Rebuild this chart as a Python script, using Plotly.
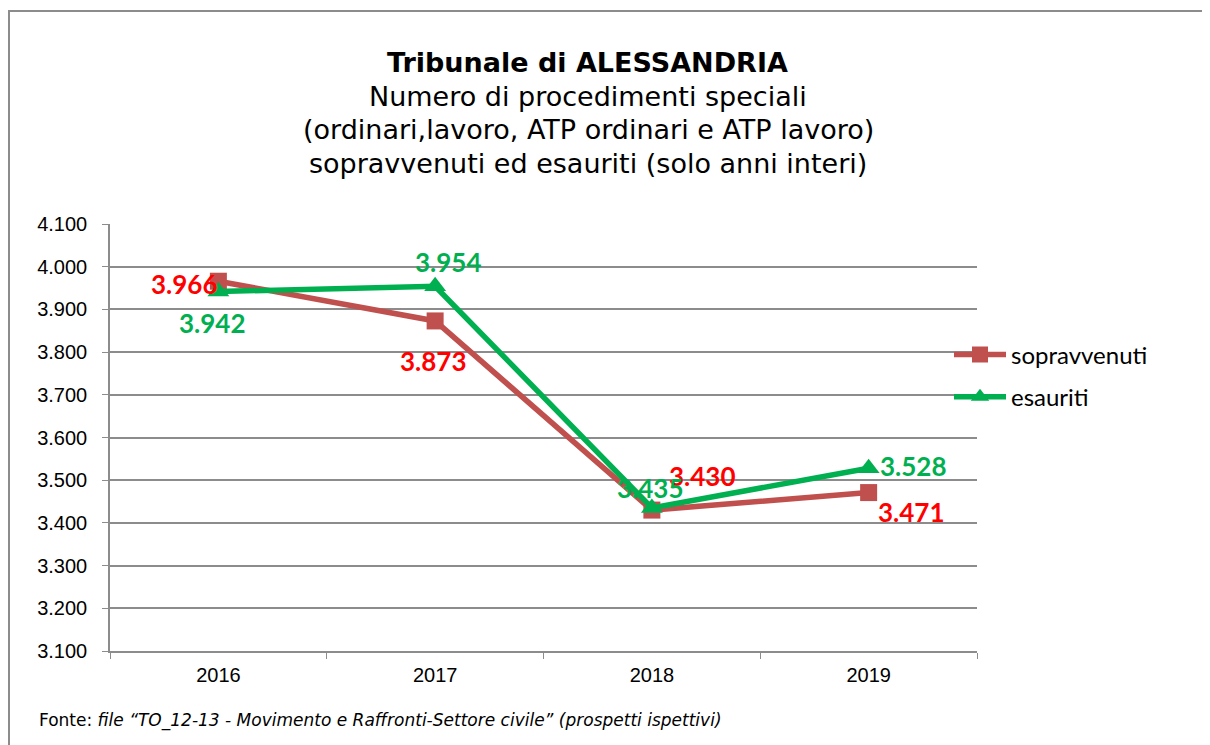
import plotly.graph_objects as go

years = ["2016", "2017", "2018", "2019"]
sopravvenuti = [3966, 3873, 3430, 3471]
esauriti = [3942, 3954, 3435, 3528]
y_ticks = [3100, 3200, 3300, 3400, 3500, 3600, 3700, 3800, 3900, 4000, 4100]

title_main = "Tribunale di ALESSANDRIA"
subtitle_lines = [
    "Numero di procedimenti speciali",
    "(ordinari,lavoro, ATP ordinari e ATP lavoro)",
    "sopravvenuti ed esauriti (solo anni interi)",
]
footer_prefix = "Fonte: "
footer_italic = "file \u201cTO_12-13 - Movimento e Raffronti-Settore civile\u201d (prospetti ispettivi)"

RED_LINE = "#C0504D"
GREEN = "#00B050"
RED_TXT = "#FF0000"

# label pixel offsets (style, not data)
sop_off = [(-34, -3), (-2, -40), (51, 34), (43, -19)]
esa_off = [(-6, -32), (13, 24), (-1, 20), (45, 2)]

def fmt(v):
    return f"{v:,}".replace(",", ".")

fig = go.Figure()
fig.add_trace(go.Scatter(
    x=years, y=sopravvenuti, name="sopravvenuti", mode="lines+markers",
    legendgroup="a",
    line=dict(color=RED_LINE, width=5.5),
    marker=dict(symbol="square", size=17, color=RED_LINE),
))
fig.add_trace(go.Scatter(
    x=years, y=esauriti, name="esauriti", mode="lines+markers",
    legendgroup="b",
    line=dict(color=GREEN, width=5.5),
    marker=dict(symbol="triangle-up", size=19, color=GREEN),
))

annotations = []
for i, (v, (dx, dy)) in enumerate(zip(sopravvenuti, sop_off)):
    annotations.append(dict(x=i, y=v, xref="x", yref="y", text="<b>" + fmt(v) + "</b>", showarrow=False,
                            xshift=dx, yshift=dy,
                            font=dict(family="Lato", size=26, color=RED_TXT)))
for i, (v, (dx, dy)) in enumerate(zip(esauriti, esa_off)):
    annotations.append(dict(x=i, y=v, xref="x", yref="y", text="<b>" + fmt(v) + "</b>", showarrow=False,
                            xshift=dx, yshift=dy,
                            font=dict(family="Lato", size=26, color=GREEN)))

# page offset of the figure (body margin)
OFF = 8
# plot area in screenshot pixels: x 110..977, y 224..651
L, R, T, B = 110, 977, 224, 651
W, H = R - L, B - T
def px(xp):
    return (xp - L) / W
def py(yp):
    return (B - yp) / H

annotations.append(dict(x=px(587), y=py(62), xref="paper", yref="paper", text="<b>" + title_main + "</b>",
                        showarrow=False, xanchor="center", yanchor="middle",
                        font=dict(family="DejaVu Sans", size=27, color="black")))
for i, line in enumerate(subtitle_lines):
    annotations.append(dict(x=px(588), y=py(97 + 33 * i), xref="paper", yref="paper", text=line,
                            showarrow=False, xanchor="center", yanchor="middle",
                            font=dict(family="DejaVu Sans", size=27, color="black")))
annotations.append(dict(x=px(37), y=py(720), xref="paper", yref="paper",
                        text=footer_prefix + "<i>" + footer_italic + "</i>",
                        showarrow=False, xanchor="left", yanchor="middle",
                        font=dict(family="DejaVu Sans", size=17, color="black")))

fig.update_layout(
    width=1210, height=745,
    margin=dict(l=L - OFF, r=1210 - (R - OFF), t=T - OFF, b=745 - (B - OFF)),
    paper_bgcolor="white", plot_bgcolor="white",
    separators=",.",
    showlegend=True,
    legend=dict(x=px(949), y=py(376), xanchor="left", yanchor="middle",
                font=dict(family="Lato", size=24, color="black"),
                bgcolor="rgba(0,0,0,0)", itemwidth=52, tracegroupgap=8),
    annotations=annotations,
    shapes=[dict(type="rect", xref="paper", yref="paper",
                 x0=px(9), x1=px(1230), y0=py(770), y1=py(11),
                 line=dict(color="#8C8C8C", width=2), layer="below")],
)
fig.update_xaxes(
    type="category", range=[-0.5, 3.5],
    showline=True, linecolor="#8C8C8C", linewidth=1.5,
    ticks="outside", ticklen=6, tickcolor="#8C8C8C", tickson="boundaries",
    showgrid=False,
    tickfont=dict(family="Liberation Sans", size=20, color="black"),
    ticklabelstandoff=5,
)
fig.update_yaxes(
    range=[3100, 4100], tickvals=y_ticks, tickformat=",.0f",
    showline=True, linecolor="#8C8C8C", linewidth=1.5,
    ticks="outside", ticklen=6, tickcolor="#8C8C8C",
    showgrid=True, gridcolor="#8C8C8C", gridwidth=1.5,
    zeroline=False,
    tickfont=dict(family="Liberation Sans", size=20, color="black"),
    ticklabelstandoff=11,
)

fig.write_html("out.html")
